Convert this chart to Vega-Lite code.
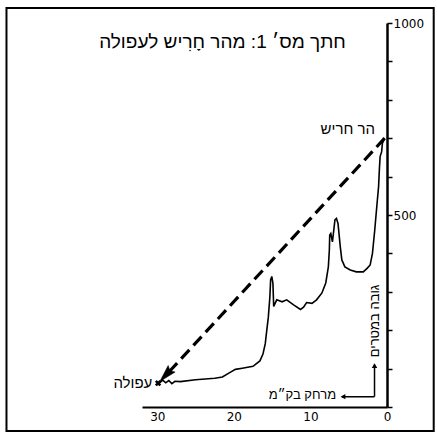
{
  "$schema": "https://vega.github.io/schema/vega-lite/v6.json",
  "width": 245,
  "height": 384,
  "autosize": {"type": "none"},
  "padding": {"left": 142, "top": 23, "right": 50, "bottom": 27},
  "background": "white",
  "config": {"view": {"stroke": null}, "font": "Liberation Sans"},
  "title": {
    "text": "חתך מס׳ 1: מהר חָרִיש לעפולה",
    "font": "Liberation Sans",
    "fontSize": 19,
    "fontWeight": "normal",
    "color": "black",
    "anchor": "middle",
    "offset": 0,
    "dx": -42,
    "dy": 45
  },
  "datasets": {
    "profile": [
      {"km": 29.7, "elev": 63},
      {"km": 29.3, "elev": 70},
      {"km": 28.9, "elev": 63},
      {"km": 28.5, "elev": 69},
      {"km": 28.1, "elev": 61},
      {"km": 27.7, "elev": 67},
      {"km": 27.0, "elev": 66},
      {"km": 25.0, "elev": 71},
      {"km": 22.5, "elev": 75},
      {"km": 21.5, "elev": 78},
      {"km": 20.6, "elev": 89},
      {"km": 19.8, "elev": 98},
      {"km": 18.9, "elev": 101},
      {"km": 17.5, "elev": 106},
      {"km": 16.6, "elev": 120},
      {"km": 16.2, "elev": 138},
      {"km": 15.9, "elev": 165},
      {"km": 15.7, "elev": 200},
      {"km": 15.5, "elev": 234},
      {"km": 15.3, "elev": 286},
      {"km": 15.2, "elev": 331},
      {"km": 15.05, "elev": 340},
      {"km": 14.9, "elev": 322},
      {"km": 14.8, "elev": 262},
      {"km": 14.4, "elev": 279},
      {"km": 13.7, "elev": 274},
      {"km": 13.1, "elev": 279},
      {"km": 12.2, "elev": 266},
      {"km": 11.3, "elev": 254},
      {"km": 10.9, "elev": 260},
      {"km": 10.5, "elev": 272},
      {"km": 9.8, "elev": 270},
      {"km": 9.2, "elev": 279},
      {"km": 8.5, "elev": 297},
      {"km": 8.0, "elev": 323},
      {"km": 7.66, "elev": 365},
      {"km": 7.53, "elev": 409},
      {"km": 7.48, "elev": 448},
      {"km": 7.34, "elev": 452},
      {"km": 7.13, "elev": 430},
      {"km": 7.0, "elev": 452},
      {"km": 6.8, "elev": 487},
      {"km": 6.6, "elev": 491},
      {"km": 6.4, "elev": 478},
      {"km": 6.1, "elev": 417},
      {"km": 5.9, "elev": 383},
      {"km": 5.5, "elev": 365},
      {"km": 4.8, "elev": 357},
      {"km": 4.0, "elev": 352},
      {"km": 3.1, "elev": 352},
      {"km": 2.6, "elev": 361},
      {"km": 2.2, "elev": 370},
      {"km": 1.9, "elev": 400},
      {"km": 1.6, "elev": 461},
      {"km": 1.3, "elev": 530},
      {"km": 1.1, "elev": 574},
      {"km": 1.0, "elev": 617},
      {"km": 0.9, "elev": 652},
      {"km": 0.7, "elev": 665},
      {"km": 0.6, "elev": 687},
      {"km": 0.4, "elev": 695}
    ]
  },
  "encoding": {
    "x": {
      "field": "km",
      "type": "quantitative",
      "scale": {"domain": [0, 32], "reverse": true, "nice": false, "zero": false},
      "axis": {
        "orient": "bottom",
        "values": [0, 10, 20, 30],
        "title": null,
        "grid": false,
        "ticks": false,
        "domainColor": "black",
        "domainWidth": 2,
        "labelFont": "DejaVu Sans",
        "labelFontSize": 12,
        "labelColor": "black",
        "labelPadding": 4,
        "labelFlush": false
      }
    },
    "y": {
      "field": "elev",
      "type": "quantitative",
      "scale": {"domain": [0, 1000], "nice": false, "zero": false},
      "axis": {
        "orient": "right",
        "values": [0, 100, 200, 300, 400, 500, 600, 700, 800, 900, 1000],
        "labelExpr": "datum.value == 500 || datum.value == 1000 ? datum.label : ''",
        "title": null,
        "grid": false,
        "domainColor": "black",
        "domainWidth": 2.5,
        "tickColor": "black",
        "tickWidth": 1.5,
        "tickSize": 5,
        "labelFont": "DejaVu Sans",
        "labelFontSize": 12,
        "labelColor": "black",
        "labelPadding": 1,
        "labelFlush": false,
        "format": "d"
      }
    }
  },
  "layer": [
    {
      "data": {"values": [{"km": 49.7, "km2": -6.1, "elev": -62.5, "elev2": 1039}]},
      "mark": {"type": "rect", "filled": false, "stroke": "black", "strokeWidth": 2, "clip": false},
      "encoding": {"x2": {"field": "km2"}, "y2": {"field": "elev2"}}
    },
    {
      "data": {"name": "profile"},
      "mark": {"type": "line", "color": "black", "strokeWidth": 1.6, "clip": false}
    },
    {
      "data": {"values": [{"km": 0.3, "elev": 700, "km2": 28.4, "elev2": 93}]},
      "mark": {"type": "rule", "color": "black", "strokeWidth": 3.2, "strokeDash": [12, 6]},
      "encoding": {"x2": {"field": "km2"}, "y2": {"field": "elev2"}}
    },
    {
      "data": {"values": [{"km": 28.9, "elev": 83}]},
      "mark": {"type": "point", "shape": "M0,-1L0.55,1L0,0.7L-0.55,1Z", "angle": 223, "size": 300, "filled": true, "fill": "black", "stroke": "black", "strokeWidth": 0.5, "opacity": 1}
    },
    {
      "data": {"values": [{"km": 29.9, "elev": 62}]},
      "mark": {"type": "point", "shape": "cross", "angle": 45, "size": 40, "filled": true, "fill": "black", "opacity": 1}
    },
    {
      "data": {"values": [{"km": 5.9, "km2": 1.63, "elev": 27}]},
      "mark": {"type": "rule", "color": "black", "strokeWidth": 1.5, "clip": false},
      "encoding": {"x2": {"field": "km2"}}
    },
    {
      "data": {"values": [{"km": 1.63, "elev": 27, "elev2": 110}]},
      "mark": {"type": "rule", "color": "black", "strokeWidth": 1.5, "clip": false},
      "encoding": {"y2": {"field": "elev2"}}
    },
    {
      "data": {"values": [{"km": 5.75, "elev": 27}]},
      "mark": {"type": "point", "shape": "triangle-up", "angle": 270, "size": 30, "filled": true, "color": "black", "opacity": 1}
    },
    {
      "data": {"values": [{"km": 1.63, "elev": 108}]},
      "mark": {"type": "point", "shape": "triangle-up", "angle": 0, "size": 30, "filled": true, "color": "black", "opacity": 1}
    },
    {
      "data": {"values": [{"km": 1.57, "elev": 724, "label": "הר חריש"}]},
      "mark": {"type": "text", "align": "right", "baseline": "middle", "font": "Liberation Sans", "fontSize": 15, "color": "black", "clip": false},
      "encoding": {"text": {"field": "label"}}
    },
    {
      "data": {"values": [{"km": 30.65, "elev": 62, "label": "עפולה"}]},
      "mark": {"type": "text", "align": "right", "baseline": "middle", "font": "Liberation Sans", "fontSize": 15, "color": "black", "clip": false},
      "encoding": {"text": {"field": "label"}}
    },
    {
      "data": {"values": [{"km": 6.65, "elev": 31, "label": "מרחק בק״מ"}]},
      "mark": {"type": "text", "align": "right", "baseline": "middle", "font": "Liberation Sans", "fontSize": 13, "color": "black", "clip": false},
      "encoding": {"text": {"field": "label"}}
    },
    {
      "data": {"values": [{"km": 1.6, "elev": 224, "label": "גובה במטרים"}]},
      "mark": {"type": "text", "align": "center", "baseline": "middle", "angle": 270, "font": "Liberation Sans", "fontSize": 13, "color": "black", "clip": false},
      "encoding": {"text": {"field": "label"}}
    }
  ]
}
